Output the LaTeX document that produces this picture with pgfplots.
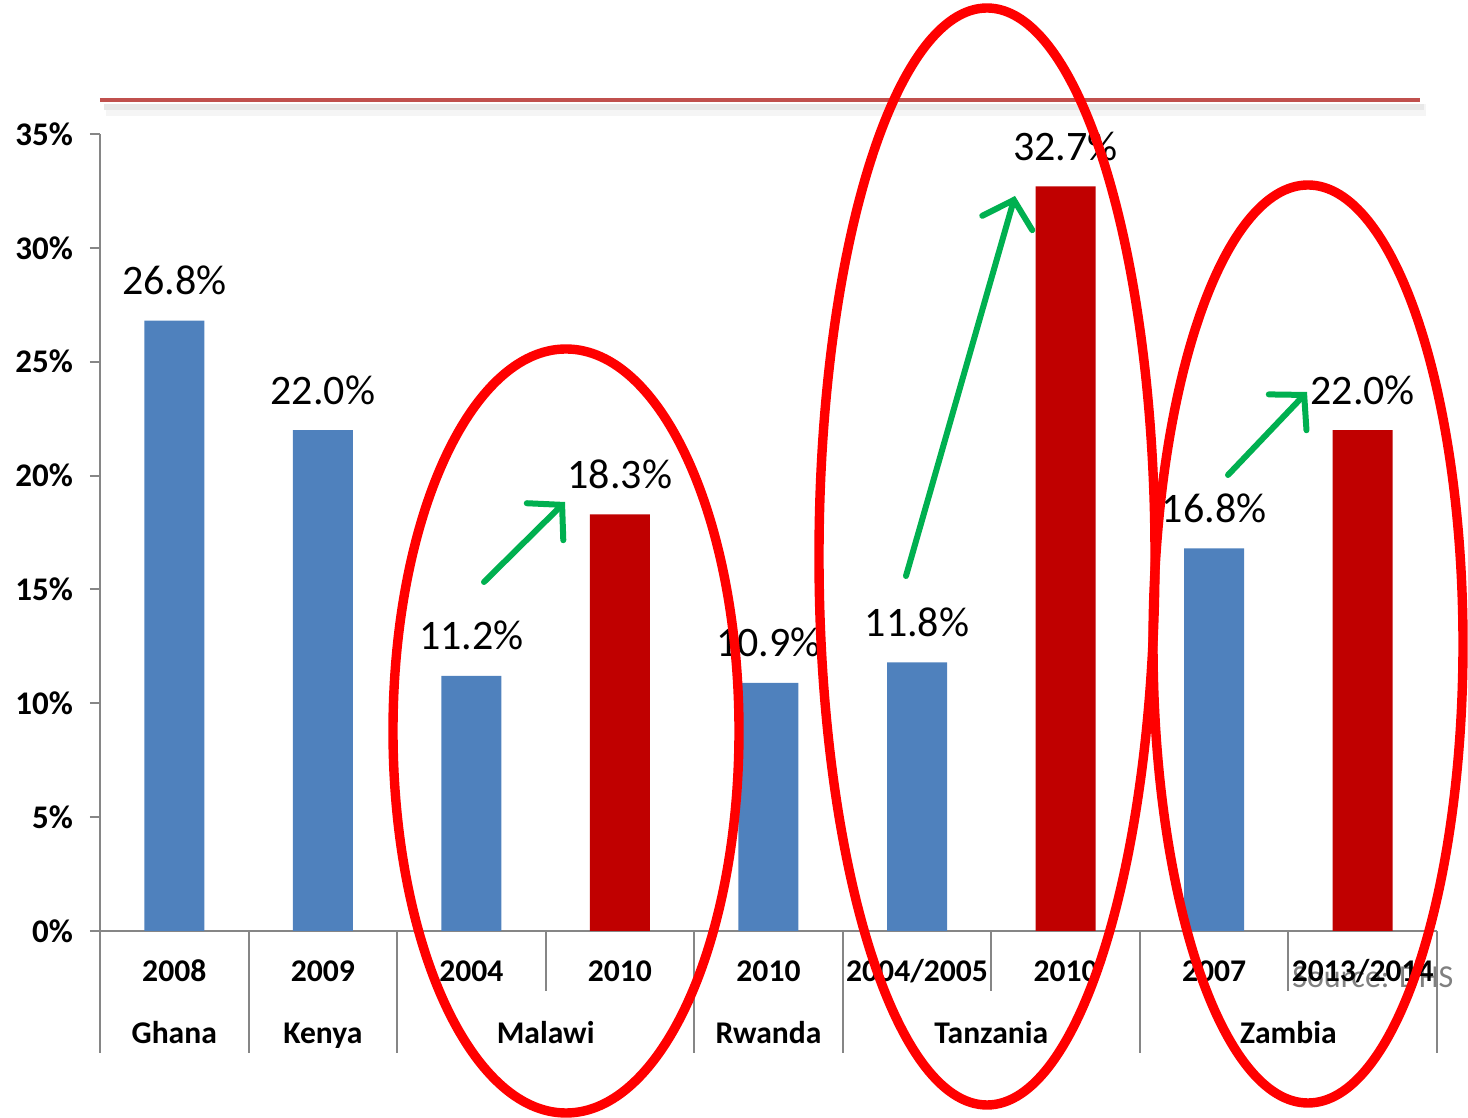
\documentclass[border=0pt]{standalone}
\usepackage{pgfplots}
\pgfplotsset{compat=1.18}
\usepackage{fontspec}
\setmainfont{Carlito}
\usetikzlibrary{arrows.meta}
\definecolor{barblue}{HTML}{4F81BD}
\definecolor{barred}{HTML}{C00000}
\definecolor{axgray}{HTML}{868686}
\definecolor{topline}{HTML}{C0504D}
\definecolor{arrgreen}{HTML}{00B050}
\begin{document}
\begin{tikzpicture}
\path[use as bounding box] (-50pt,-93.5pt) rectangle (684pt,465.5pt);
\node[anchor=base west, text=gray, font=\fontsize{16}{19}\selectfont, inner sep=0pt] at (596pt,-28.5pt) {Source: DHS};
\begin{axis}[
  scale only axis,
  width=668.5pt, height=398.5pt,
  xmin=-0.5, xmax=8.5, ymin=0, ymax=35,
  axis x line*=bottom, axis y line*=left,
  axis line style={draw=axgray, line width=1pt},
  ybar, bar width=30pt, bar shift=0pt,
  ytick={0,5,...,35},
  yticklabel={\pgfmathprintnumber{\tick}\%},
  /pgf/number format/assume math mode=true,
  tick align=outside,
  major tick length=5pt,
  major y tick style={draw=axgray, line width=1pt},
  major x tick style={draw=none},
  yticklabel style={font=\bfseries\fontsize{16.5}{18}\selectfont, xshift=-5pt},
  xtick={0,...,8},
  xticklabels={2008,2009,2004,2010,2010,2004/2005,2010,2007,2013/2014},
  xticklabel style={font=\bfseries\fontsize{15.8}{18}\selectfont, anchor=base, yshift=-20.5pt},
  clip=false,
  nodes near coords={\pgfmathprintnumber[fixed,fixed zerofill,precision=1]{\pgfplotspointmeta}\%},
  every node near coord/.append style={font=\fontsize{21}{24}\selectfont, anchor=base, yshift=13pt, text=black},
]
\addplot[draw=none, fill=barblue] coordinates {(0,26.8) (1,22.0) (2,11.2) (4,10.9) (5,11.8) (7,16.8)};
\addplot[draw=none, fill=barred] coordinates {(3,18.3) (6,32.7) (8,22.0)};
% category separators
\pgfplotsinvokeforeach{-0.5,0.5,1.5,3.5,4.5,6.5,8.5}{
  \draw[axgray, line width=1pt] (axis cs:#1,0) -- ([yshift=-61pt]axis cs:#1,0);
}
\pgfplotsinvokeforeach{2.5,5.5,7.5}{
  \draw[axgray, line width=1pt] (axis cs:#1,0) -- ([yshift=-30pt]axis cs:#1,0);
}
\node[anchor=base, font=\bfseries\fontsize{15.8}{18}\selectfont] at ([yshift=-56.5pt]axis cs:0,0) {Ghana};
\node[anchor=base, font=\bfseries\fontsize{15.8}{18}\selectfont] at ([yshift=-56.5pt]axis cs:1,0) {Kenya};
\node[anchor=base, font=\bfseries\fontsize{15.8}{18}\selectfont] at ([yshift=-56.5pt]axis cs:2.5,0) {Malawi};
\node[anchor=base, font=\bfseries\fontsize{15.8}{18}\selectfont] at ([yshift=-56.5pt]axis cs:4,0) {Rwanda};
\node[anchor=base, font=\bfseries\fontsize{15.8}{18}\selectfont] at ([yshift=-56.5pt]axis cs:5.5,0) {Tanzania};
\node[anchor=base, font=\bfseries\fontsize{15.8}{18}\selectfont] at ([yshift=-56.5pt]axis cs:7.5,0) {Zambia};
\end{axis}
% top rule with soft shadow
\draw[black!4, line width=6pt] (3pt,410.5pt) -- (663pt,410.5pt);
\draw[black!9, line width=3pt] (2pt,412pt) -- (662pt,412pt);
\draw[topline, line width=2pt] (0pt,415.5pt) -- (660pt,415.5pt);
% ellipses
\draw[red, line width=4.7pt] (233pt,100pt) ellipse [x radius=86.5pt, y radius=191pt];
\draw[red, line width=4.7pt] (443.5pt,187.25pt) ellipse [x radius=84pt, y radius=274.25pt];
\draw[red, line width=4.7pt] (604pt,143.5pt) ellipse [x radius=77.5pt, y radius=229.5pt];
% arrows
\draw[arrgreen, line width=3pt, line cap=round, -{Straight Barb[length=12pt,width=26pt,line cap=round]}] (192pt,174.5pt) -- (232.5pt,214.5pt);
\draw[arrgreen, line width=3pt, line cap=round, -{Straight Barb[length=12pt,width=26pt,line cap=round]}] (403pt,177.5pt) -- (457.5pt,367.5pt);
\draw[arrgreen, line width=3pt, line cap=round, -{Straight Barb[length=12pt,width=26pt,line cap=round]}] (564pt,228pt) -- (603.5pt,269.5pt);
\end{tikzpicture}
\end{document}
